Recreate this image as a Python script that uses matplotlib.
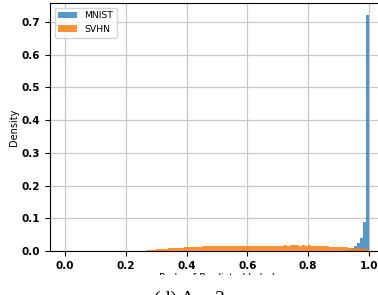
import numpy as np
import matplotlib

matplotlib.use("Agg")
import matplotlib.pyplot as plt
from matplotlib.patches import Rectangle

# bin edges: 100 bins over [0, 1]
bin_left = np.round(np.arange(0, 1.0, 0.01), 2)

# MNIST: nearly all mass in the last bins
mnist_bins = [0.91, 0.92, 0.93, 0.94, 0.95, 0.96, 0.97, 0.98, 0.99]
mnist_vals = [0.0007, 0.001, 0.002, 0.004, 0.008, 0.016, 0.024, 0.041, 0.722]
mnist_bins = [0.90, 0.91, 0.92, 0.93, 0.94, 0.95, 0.96, 0.97, 0.98, 0.99]
mnist_vals = [0.0007, 0.001, 0.002, 0.004, 0.008, 0.016, 0.024, 0.041, 0.089, 0.722]

# SVHN: spread from ~0.26 to 1.0
svhn_bins = list(np.round(np.arange(0.26, 1.0, 0.01), 2))
svhn_vals = [
    0.001, 0.002, 0.003, 0.004, 0.005, 0.006, 0.007, 0.007, 0.008, 0.009,   # 0.26-0.35
    0.009, 0.010, 0.010, 0.011, 0.012, 0.012, 0.013, 0.013, 0.013, 0.014,   # 0.36-0.45
    0.014, 0.014, 0.015, 0.015, 0.016, 0.015, 0.015, 0.014, 0.015, 0.015,   # 0.46-0.55
    0.015, 0.014, 0.015, 0.015, 0.016, 0.015, 0.016, 0.015, 0.016, 0.015,   # 0.56-0.65
    0.016, 0.015, 0.016, 0.016, 0.015, 0.016, 0.017, 0.016, 0.017, 0.018,   # 0.66-0.75
    0.017, 0.016, 0.017, 0.016, 0.017, 0.016, 0.015, 0.016, 0.015, 0.014,   # 0.76-0.85
    0.014, 0.013, 0.013, 0.012, 0.012, 0.011, 0.011, 0.010, 0.010, 0.010,   # 0.86-0.95
    0.009, 0.008, 0.007, 0.005,                                             # 0.96-0.99
]

mnist_w = np.zeros(len(bin_left))
for b, v in zip(mnist_bins, mnist_vals):
    mnist_w[int(round(b * 100))] = v
svhn_w = np.zeros(len(bin_left))
for b, v in zip(svhn_bins, svhn_vals):
    svhn_w[int(round(b * 100))] = v

edges = np.linspace(0, 1, 101)

fig = plt.figure(figsize=(3.78, 2.95), dpi=100)
ax = fig.add_axes([0.132, 0.149, 0.884, 0.841])
ax.hist(bin_left + 0.005, bins=edges, weights=mnist_w, color="tab:blue", alpha=0.75, label="MNIST")
ax.hist(bin_left + 0.005, bins=edges, weights=svhn_w, color="tab:orange", alpha=0.85, label="SVHN")
ax.set_xlim(-0.05, 1.05)
ax.set_ylim(0, 0.758)
ax.set_xticks([0.0, 0.2, 0.4, 0.6, 0.8, 1.0])
ax.set_yticks([0.0, 0.1, 0.2, 0.3, 0.4, 0.5, 0.6, 0.7])
ax.tick_params(labelsize=7.5)
for lbl in ax.get_xticklabels() + ax.get_yticklabels():
    lbl.set_fontweight("bold")
ax.grid(True, color="#c8c8c8", linewidth=0.9)
ax.set_axisbelow(True)
ax.set_ylabel("Density", fontsize=7, labelpad=2)
ax.set_xlabel("Prob. of Predicted Label", fontsize=7, labelpad=1.5)
ax.legend(loc="upper left", fontsize=6.7)

# crop of the lower part, like the page the figure came from
fig.patches.append(Rectangle((0, 0), 1, 20 / 295, transform=fig.transFigure,
                             facecolor="white", edgecolor="none", zorder=10))
fig.text(0.5, 0.013, "(d) Λ = 2", ha="center", va="top", fontsize=14,
         family="Liberation Serif", zorder=11)

fig.savefig("out.png", dpi=100)
